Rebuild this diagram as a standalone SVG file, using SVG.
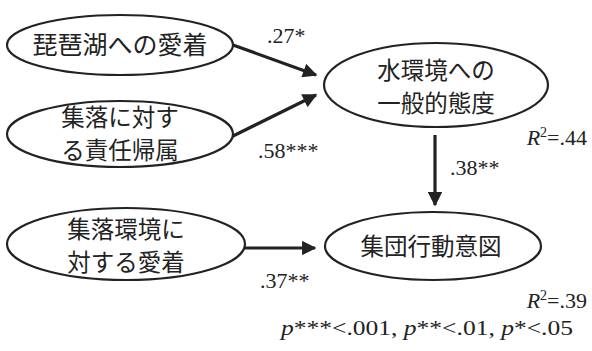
<svg xmlns="http://www.w3.org/2000/svg" width="592" height="351" viewBox="0 0 592 351">
<defs>
<style>
.node ellipse{fill:#fff;stroke:#222;stroke-width:2.2}
.jp{font-family:"Noto Sans CJK JP","Noto Sans CJK SC",sans-serif;font-size:23.5px;fill:#222;text-anchor:middle}
.num{font-family:"Liberation Serif","Times New Roman",serif;font-size:22px;fill:#222}
.it{font-style:italic}
.edge{stroke:#222;stroke-width:3.2;fill:none;marker-end:url(#ah)}
</style>
<marker id="ah" viewBox="0 0 10 10" refX="9" refY="5" markerWidth="5" markerHeight="4.5" markerUnits="strokeWidth" orient="auto">
<path d="M0,0 L10,5 L0,10 z" fill="#222"/>
</marker>
</defs>
<rect width="592" height="351" fill="#fff"/>
<g id="connectors">
<line class="edge" x1="233" y1="45" x2="316" y2="75"/>
<line class="edge" x1="231" y1="137" x2="316" y2="95"/>
<line class="edge" x1="435" y1="135" x2="435" y2="205"/>
<line class="edge" x1="245" y1="248" x2="315" y2="248"/>
</g>
<g id="n1" class="node">
<ellipse cx="120" cy="45" rx="113" ry="30"/>
<text class="jp" x="120" y="54" style="font-size:25px">琵琶湖への愛着</text>
</g>
<g id="n2" class="node">
<ellipse cx="120" cy="134" rx="113" ry="33"/>
<text class="jp" x="120" y="126">集落に対す</text>
<text class="jp" x="120" y="159">る責任帰属</text>
</g>
<g id="n3" class="node">
<ellipse cx="436" cy="85" rx="112" ry="42"/>
<text class="jp" x="436" y="79">水環境への</text>
<text class="jp" x="436" y="112">一般的態度</text>
</g>
<g id="n4" class="node">
<ellipse cx="126" cy="244" rx="119" ry="36"/>
<text class="jp" x="126" y="238">集落環境に</text>
<text class="jp" x="126" y="271">対する愛着</text>
</g>
<g id="n5" class="node">
<ellipse cx="433" cy="246" rx="108" ry="34"/>
<text class="jp" x="431" y="255">集団行動意図</text>
</g>
<g id="labels">
<text class="num" x="267" y="43">.27*</text>
<text class="num" x="258" y="158">.58***</text>
<text class="num" x="450" y="175">.38**</text>
<text class="num" x="260" y="288">.37**</text>
<text class="num" x="587" y="145" text-anchor="end"><tspan class="it">R</tspan><tspan font-size="14" dy="-8">2</tspan><tspan dy="8">=.44</tspan></text>
<text class="num" x="587" y="308" text-anchor="end"><tspan class="it">R</tspan><tspan font-size="14" dy="-8">2</tspan><tspan dy="8">=.39</tspan></text>
<text class="num" x="281" y="335" textLength="292" lengthAdjust="spacingAndGlyphs"><tspan class="it">p</tspan>***&lt;.001, <tspan class="it">p</tspan>**&lt;.01, <tspan class="it">p</tspan>*&lt;.05</text>
</g>
</svg>
